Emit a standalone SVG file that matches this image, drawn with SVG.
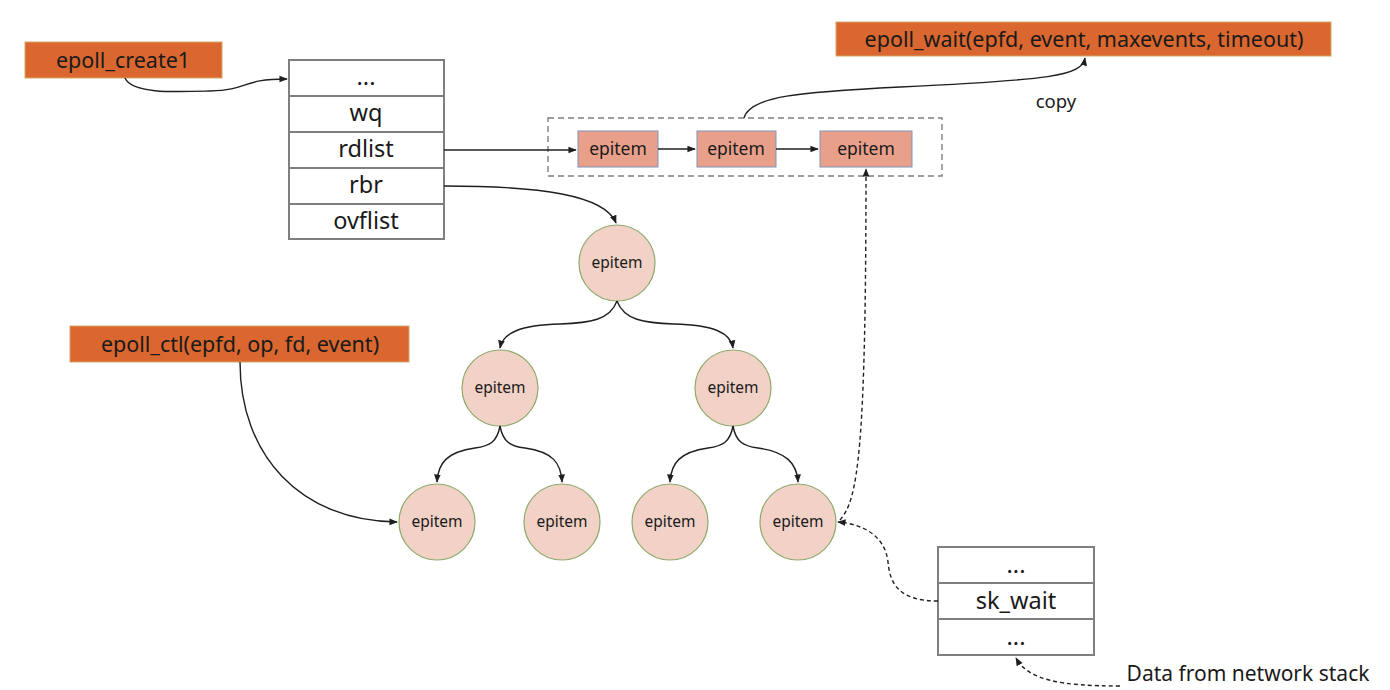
<svg xmlns="http://www.w3.org/2000/svg" width="1390" height="690" viewBox="0 0 1390 690">
<defs>
<style>
text{font-family:"Noto Sans","Liberation Sans",sans-serif;fill:#1a1a1a;text-anchor:middle;dominant-baseline:central}
.call rect{fill:#D9672F;stroke:#D6A869;stroke-width:1}
.call text{font-size:21.5px}
.struct rect{fill:#fff;stroke:#7f7f7f;stroke-width:2}
.struct text{font-size:23.5px}
.li rect{fill:#E8A08A;stroke:#7F93B8;stroke-width:1}
.li text{font-size:17.5px}
.tn circle{fill:#F2D1C6;stroke:#8DAA6A;stroke-width:1.2}
.tn text{font-size:15.5px}
.conn path{fill:none;stroke:#1f1f1f;stroke-width:1.4}
.conn .d{stroke-dasharray:4 3}
</style>
<marker id="ah" viewBox="0 0 10 10" refX="9" refY="5" markerWidth="6" markerHeight="6" orient="auto">
<path d="M0,1 L10,5 L0,9 z" fill="#1f1f1f"/>
</marker>
</defs>
<rect width="1390" height="690" fill="#fff"/>

<g id="epoll_create1" class="call"><rect x="25" y="42" width="197" height="36"/><text x="123" y="59">epoll_create1</text></g>
<g id="epoll_wait" class="call"><rect x="836" y="22" width="495" height="34"/><text x="1084" y="38">epoll_wait(epfd, event, maxevents, timeout)</text></g>
<g id="epoll_ctl" class="call"><rect x="70" y="326" width="339" height="36"/><text x="240" y="343">epoll_ctl(epfd, op, fd, event)</text></g>

<g id="eventpoll" class="struct">
<rect x="289" y="60" width="155" height="36"/><text x="366" y="76">...</text>
<rect x="289" y="96" width="155" height="36"/><text x="366" y="112">wq</text>
<rect x="289" y="132" width="155" height="36"/><text x="366" y="148">rdlist</text>
<rect x="289" y="168" width="155" height="36"/><text x="366" y="184">rbr</text>
<rect x="289" y="204" width="155" height="35"/><text x="366" y="220">ovflist</text>
</g>

<g id="sock" class="struct">
<rect x="938" y="547" width="156" height="36"/><text x="1016" y="564">...</text>
<rect x="938" y="583" width="156" height="36"/><text x="1016" y="600">sk_wait</text>
<rect x="938" y="619" width="156" height="36"/><text x="1016" y="636">...</text>
</g>

<g id="rdllist"><rect x="548" y="118" width="394" height="58" fill="none" stroke="#7f7f7f" stroke-width="1.4" stroke-dasharray="6 4"/></g>
<g id="li1" class="li"><rect x="578" y="131" width="80" height="36"/><text x="618" y="148">epitem</text></g>
<g id="li2" class="li"><rect x="697" y="131" width="79" height="36"/><text x="736" y="148">epitem</text></g>
<g id="li3" class="li"><rect x="820" y="131" width="92" height="36"/><text x="866" y="148">epitem</text></g>

<g id="t0" class="tn"><circle cx="617" cy="263" r="38"/><text x="617" y="262">epitem</text></g>
<g id="t1" class="tn"><circle cx="500" cy="388" r="38"/><text x="500" y="387">epitem</text></g>
<g id="t2" class="tn"><circle cx="733" cy="388" r="38"/><text x="733" y="387">epitem</text></g>
<g id="t3" class="tn"><circle cx="437" cy="522" r="38"/><text x="437" y="521">epitem</text></g>
<g id="t4" class="tn"><circle cx="562" cy="522" r="38"/><text x="562" y="521">epitem</text></g>
<g id="t5" class="tn"><circle cx="670" cy="522" r="38"/><text x="670" y="521">epitem</text></g>
<g id="t6" class="tn"><circle cx="798" cy="522" r="38"/><text x="798" y="521">epitem</text></g>

<g id="labels">
<text x="1056" y="100" font-size="18.5">copy</text>
<text x="1248" y="673" font-size="21">Data from network stack</text>
</g>

<g id="connectors" class="conn">
<path d="M125,78 C132,94 175,92 210,91 C250,90 240,79 287,79" marker-end="url(#ah)"/>
<path d="M444,150 L576,150" marker-end="url(#ah)"/>
<path d="M658,149 L695,149" marker-end="url(#ah)"/>
<path d="M776,149 L818,149" marker-end="url(#ah)"/>
<path d="M744,118 C750,96 800,92 900,87 C1050,80 1082,76 1085,58" marker-end="url(#ah)"/>
<path d="M444,186 C540,186 605,195 616,223" marker-end="url(#ah)"/>
<path d="M617,301 C610,320 590,323 560,324 C520,325 503,333 500,348" marker-end="url(#ah)"/>
<path d="M617,301 C624,320 644,323 674,324 C714,325 731,333 733,348" marker-end="url(#ah)"/>
<path d="M500,426 C497,442 490,446 475,448 C447,452 438,463 437,482" marker-end="url(#ah)"/>
<path d="M500,426 C503,442 510,446 525,448 C553,452 561,463 562,482" marker-end="url(#ah)"/>
<path d="M733,426 C730,442 723,446 708,448 C680,452 671,463 670,482" marker-end="url(#ah)"/>
<path d="M733,426 C736,442 743,446 758,448 C786,452 797,463 798,482" marker-end="url(#ah)"/>
<path d="M240,362 C240,455 300,521 397,522" marker-end="url(#ah)"/>
<path class="d" d="M840,520 C858,500 866,450 866,169" marker-end="url(#ah)"/>
<path class="d" d="M938,601 C900,601 890,585 888,562 C885,535 862,524 838,522" marker-end="url(#ah)"/>
<path class="d" d="M1120,686 C1060,686 1028,680 1016,658" marker-end="url(#ah)"/>
</g>
</svg>
